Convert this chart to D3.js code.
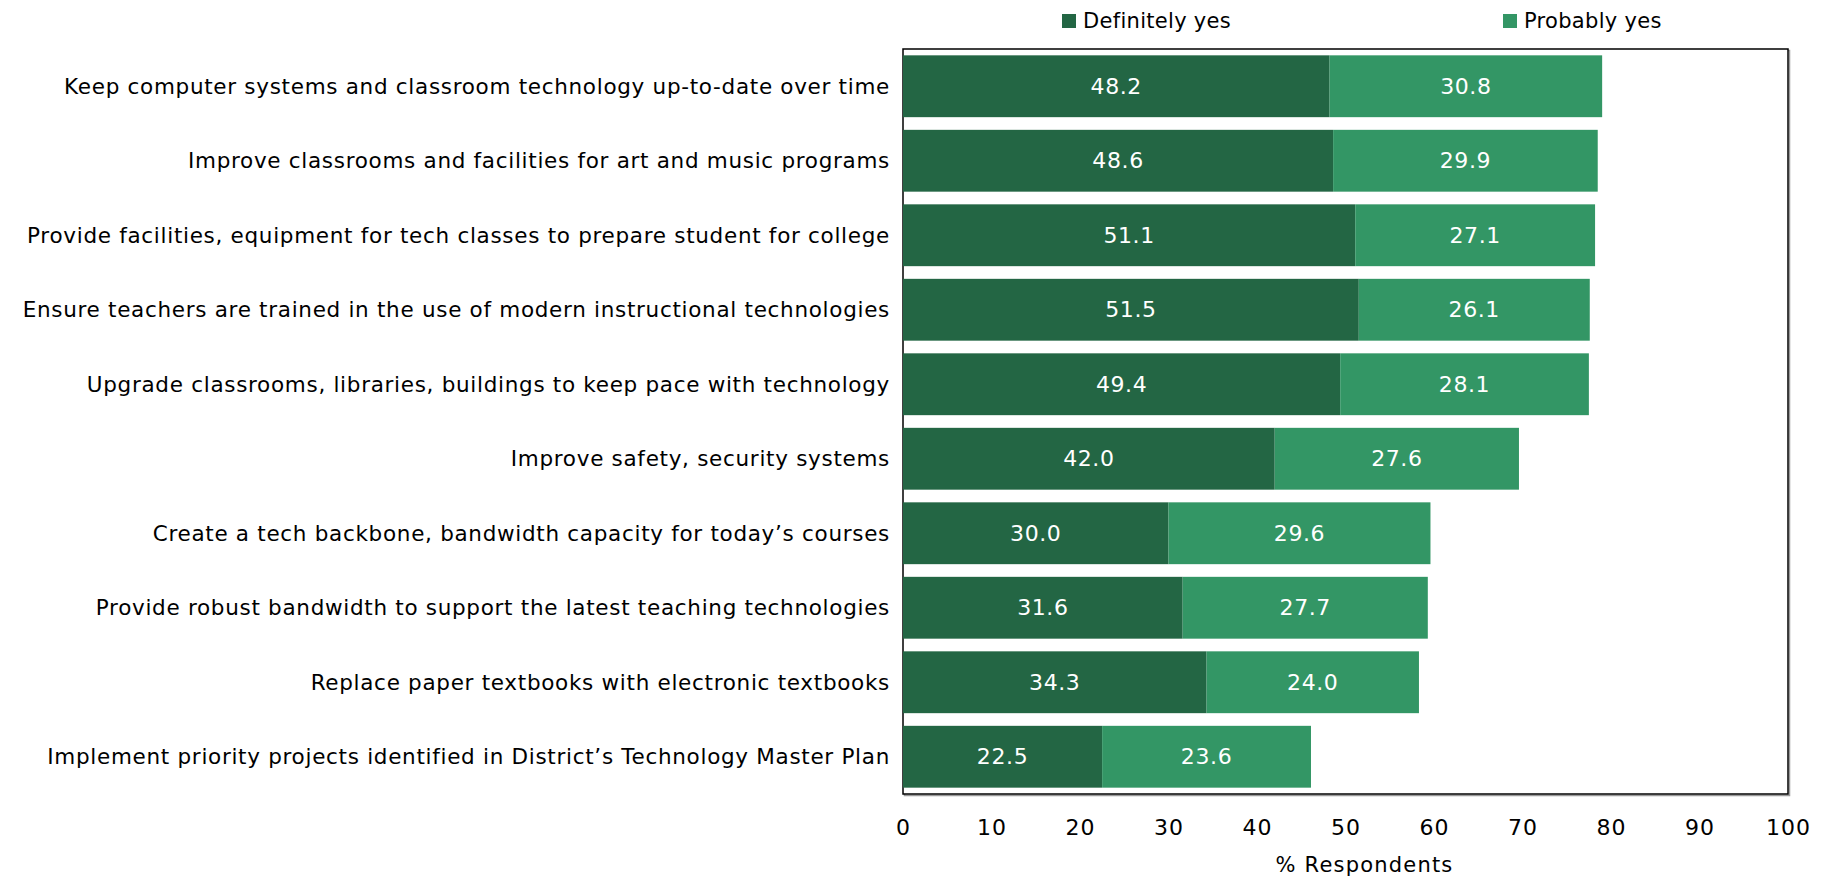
<!DOCTYPE html>
<html>
<head>
<meta charset="utf-8">
<script src="https://cdn.jsdelivr.net/npm/d3@7"></script>
<style>
  body { margin: 0; background: #fff; }
  text { font-family: "DejaVu Sans", sans-serif; }
</style>
</head>
<body>
<div id="chart"></div>
<script>
// data
let items = [
    "Keep computer systems and classroom technology up-to-date over time",
    "Improve classrooms and facilities for art and music programs",
    "Provide facilities, equipment for tech classes to prepare student for college",
    "Ensure teachers are trained in the use of modern instructional technologies",
    "Upgrade classrooms, libraries, buildings to keep pace with technology",
    "Improve safety, security systems",
    "Create a tech backbone, bandwidth capacity for today\u2019s courses",
    "Provide robust bandwidth to support the latest teaching technologies",
    "Replace paper textbooks with electronic textbooks",
    "Implement priority projects identified in District\u2019s Technology Master Plan"
]
let definitelyYes = [48.2, 48.6, 51.1, 51.5, 49.4, 42.0, 30.0, 31.6, 34.3, 22.5]
let probablyYes = [30.8, 29.9, 27.1, 26.1, 28.1, 27.6, 29.6, 27.7, 24.0, 23.6]
let seriesNames = ["Definitely yes", "Probably yes"]
let xTicks = [0, 10, 20, 30, 40, 50, 60, 70, 80, 90, 100]

// set the dimensions and margins of the graph
var margin = { top: 49, right: 38, bottom: 85, left: 903 },
    width = 1826 - margin.left - margin.right,
    height = 879 - margin.top - margin.bottom;

var svg = d3.select("#chart")
    .append("svg")
    .attr("width", 1826)
    .attr("height", 879)
    .append("g")
    .attr("transform", "translate(" + margin.left + "," + margin.top + ")");

var color = d3.scaleOrdinal()
    .domain(seriesNames)
    .range(["#236644", "#339665"])

// build rows for stacking
let rows = items.map((name, i) => {
    let obj = { name: name }
    obj[seriesNames[0]] = definitelyYes[i]
    obj[seriesNames[1]] = probablyYes[i]
    return obj
})
let stacked = d3.stack().keys(seriesNames)(rows)

var x = d3.scaleLinear()
    .domain([0, 100])
    .range([0, width]);

var y = d3.scaleBand()
    .domain(items)
    .range([0, height])
    .paddingInner(0.17)
    .paddingOuter(0.085);

// frame shadow + frame
svg.append("rect")
    .attr("x", 1.5).attr("y", 1.5)
    .attr("width", width).attr("height", height)
    .attr("fill", "none")
    .attr("stroke", "#999")
    .attr("stroke-width", 1.5)
svg.append("rect")
    .attr("width", width).attr("height", height)
    .attr("fill", "#fff")
    .attr("stroke", "#000")
    .attr("stroke-width", 1.5)

// bars
let groups = svg.selectAll(".series")
    .data(stacked)
    .enter()
    .append("g")
    .attr("fill", d => color(d.key))

groups.selectAll("rect")
    .data(d => d)
    .enter()
    .append("rect")
    .attr("x", d => x(d[0]))
    .attr("y", d => y(d.data.name))
    .attr("width", d => x(d[1]) - x(d[0]))
    .attr("height", y.bandwidth())

// value labels
groups.selectAll("text")
    .data(d => d)
    .enter()
    .append("text")
    .attr("x", d => (x(d[0]) + x(d[1])) / 2)
    .attr("y", d => y(d.data.name) + y.bandwidth() / 2)
    .attr("dy", "0.35em")
    .attr("text-anchor", "middle")
    .attr("fill", "#fff")
    .style("font-size", "22px")
    .style("letter-spacing", "0.6px")
    .text(d => (d[1] - d[0]).toFixed(1))

// category labels
svg.append("g")
    .selectAll("text")
    .data(items)
    .enter()
    .append("text")
    .attr("x", -13)
    .attr("y", d => y(d) + y.bandwidth() / 2)
    .attr("dy", "0.35em")
    .attr("text-anchor", "end")
    .attr("fill", "#000")
    .style("font-size", "21.5px")
    .style("letter-spacing", "0.7px")
    .text(d => d)

// x axis (labels only)
let xAxis = svg.append("g")
    .attr("transform", "translate(0," + height + ")")
    .call(d3.axisBottom(x).tickValues(xTicks).tickSize(0).tickPadding(25))
xAxis.select(".domain").remove()
xAxis.selectAll("text")
    .style("font-family", "DejaVu Sans, sans-serif")
    .style("font-size", "22px")
    .style("letter-spacing", "1px")
    .attr("fill", "#000")

svg.append("text")
    .attr("x", width / 2 + 19)
    .attr("y", height + 78)
    .attr("text-anchor", "middle")
    .style("font-size", "21px")
    .style("letter-spacing", "1.2px")
    .text("% Respondents")

// legend
let legendX = [1062, 1503]
let legend = svg.append("g")
    .selectAll("g")
    .data(seriesNames)
    .enter()
    .append("g")
    .attr("transform", (d, i) => "translate(" + (legendX[i] - margin.left) + "," + (14 - margin.top) + ")")
legend.append("rect")
    .attr("width", 14).attr("height", 14)
    .attr("fill", d => color(d))
legend.append("text")
    .attr("x", 21)
    .attr("y", 7)
    .attr("dy", "0.35em")
    .style("font-size", "21px")
    .style("letter-spacing", "0.3px")
    .text(d => d)
</script>
</body>
</html>
